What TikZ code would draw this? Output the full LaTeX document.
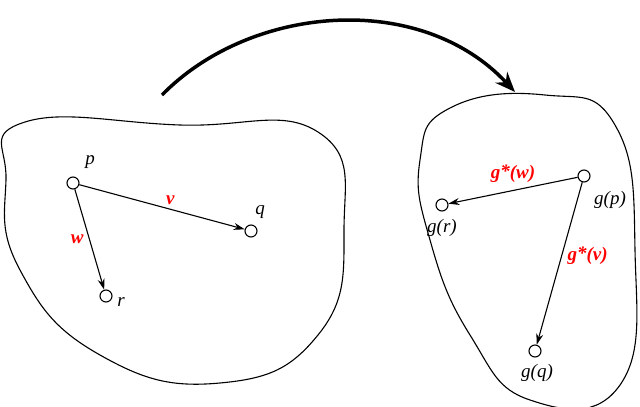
\documentclass[tikz,border=0pt]{standalone}
\usepackage{fontspec}
\setmainfont{Liberation Serif}
\usetikzlibrary{arrows.meta}
\begin{document}
\begin{tikzpicture}[x=1pt,y=-1pt,
  pt/.style={circle,draw,line width=1.1pt,inner sep=0pt,minimum size=12pt,fill=white},
  lab/.style={font=\itshape\fontsize{19}{19}\selectfont},
  rl/.style={font=\bfseries\itshape\fontsize{19}{19}\selectfont,text=red},
  arr/.style={-{Stealth[length=11pt,width=7pt]},line width=1.1pt},
  blob/.style={line width=1.1pt}]
\useasboundingbox (0,0) rectangle (640,407);
% left blob
\draw[blob] plot[smooth cycle,tension=0.8] coordinates{(25,122) (180,125) (318,132) (344,230) (318,335) (220,383) (100,355) (20,270) (6,180)};
% right blob
\draw[blob] plot[smooth cycle,tension=0.8] coordinates{(450,108) (545,95) (615,125) (635,250) (620,385) (530,400) (470,335) (430,240) (420,160)};
% big arrow
\coordinate (s) at (162,95);
\coordinate (e) at (515,92);
\draw[line width=3.5pt,-{Stealth[length=20pt,width=16pt]}] (s) .. controls (250,5) and (420,-10) .. (e);
% left points
\node[pt] (p) at (73,183) {};
\node[pt] (q) at (251,231) {};
\node[pt] (r) at (106,296) {};
\node[lab] at (90,162) {p};
\node[lab] at (260,212) {q};
\node[lab] at (121,302) {r};
\draw[arr] (p) -- (q) node[rl,pos=0.55,above=1pt] {v};
\draw[arr] (p) -- (r) node[rl,pos=0.5,left=2pt] {w};
% right points
\node[pt] (gp) at (584,176) {};
\node[pt] (gr) at (442,205) {};
\node[pt] (gq) at (535,351) {};
\node[lab] at (610,200) {g(p)};
\node[lab] at (442,228) {g(r)};
\node[lab] at (537,373) {g(q)};
\draw[arr] (gp) -- (gr) node[rl,pos=0.5,above=4pt] {g\raisebox{1pt}{*}(w)};
\draw[arr] (gp) -- (gq) node[rl,pos=0.45,right=2pt] {g\raisebox{1pt}{*}(v)};
\end{tikzpicture}
\end{document}
